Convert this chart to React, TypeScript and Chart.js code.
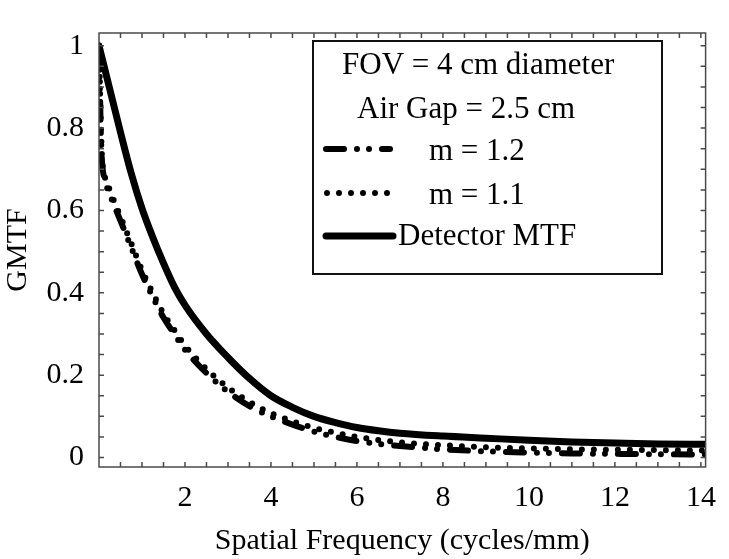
import React, { useEffect, useRef } from "react";
import { Chart, registerables } from "chart.js";

Chart.register(...registerables);

// ---- Data ----
const detectorFreq = [0, 0.25, 0.5, 0.75, 1.0, 1.25, 1.5, 1.75, 2, 2.5, 3, 3.5, 4, 4.5, 5, 5.5, 6, 6.5, 7, 8, 9, 10, 11, 12, 13, 14.2];
const detectorMtf = [1, 0.895, 0.79, 0.69, 0.605, 0.535, 0.472, 0.415, 0.37, 0.3, 0.243, 0.192, 0.15, 0.122, 0.1, 0.085, 0.073, 0.065, 0.059, 0.052, 0.047, 0.042, 0.038, 0.035, 0.033, 0.032];

const gmtfFreq = [0, 0.02, 0.04, 0.07, 0.12, 0.25, 0.5, 0.75, 1, 1.25, 1.5, 1.75, 2, 2.5, 3, 3.5, 4, 4.5, 5, 5.5, 6, 7, 8, 9, 10, 11, 12, 13, 14.2];
const gmtfM12 = [1, 0.9, 0.8, 0.72, 0.68, 0.64, 0.575, 0.51, 0.445, 0.39, 0.34, 0.3, 0.262, 0.205, 0.16, 0.125, 0.1, 0.08, 0.063, 0.05, 0.04, 0.028, 0.02, 0.015, 0.012, 0.01, 0.009, 0.008, 0.007];
const gmtfM11 = [1, 0.91, 0.82, 0.73, 0.69, 0.65, 0.585, 0.52, 0.455, 0.4, 0.35, 0.31, 0.272, 0.215, 0.17, 0.135, 0.108, 0.088, 0.072, 0.06, 0.05, 0.037, 0.03, 0.025, 0.022, 0.02, 0.019, 0.018, 0.017];

const xTickValues = [2, 4, 6, 8, 10, 12, 14];
const yTickValues = [0, 0.2, 0.4, 0.6, 0.8, 1];
const xMinorStep = 0.5;
const yMinorStep = 0.05;
const xRange = [0, 14.11];
const yRange = [-0.023, 1.031];

const xTitle = "Spatial Frequency (cycles/mm)";
const yTitle = "GMTF";
const legendHeader = ["FOV = 4 cm diameter", "Air Gap = 2.5 cm"];
const seriesLabels = ["m = 1.2", "m = 1.1", "Detector MTF"];

const FONT = '"Liberation Serif", "Times New Roman", Times, serif';

const dashM12 = [18, 13, 0, 12, 0, 13];
const dashM11 = [0, 12];

const framePlugin = {
  id: "frameTicks",
  afterDatasetsDraw(chart: any) {
    const { ctx, chartArea: a, scales } = chart;
    const xs = scales.x;
    const ys = scales.y;
    ctx.save();
    ctx.strokeStyle = "#4a4a4a";
    ctx.lineWidth = 1.5;
    ctx.setLineDash([]);
    ctx.beginPath();
    const nx = Math.floor(14 / xMinorStep);
    for (let i = 1; i <= nx; i++) {
      const px = xs.getPixelForValue(i * xMinorStep);
      ctx.moveTo(px, a.bottom);
      ctx.lineTo(px, a.bottom - 5);
      ctx.moveTo(px, a.top);
      ctx.lineTo(px, a.top + 5);
    }
    const ny = Math.round(1 / yMinorStep);
    for (let i = 0; i <= ny; i++) {
      const py = ys.getPixelForValue(i * yMinorStep);
      ctx.moveTo(a.left, py);
      ctx.lineTo(a.left + 5, py);
      ctx.moveTo(a.right, py);
      ctx.lineTo(a.right - 5, py);
    }
    ctx.stroke();
    ctx.strokeRect(a.left, a.top, a.right - a.left, a.bottom - a.top);
    ctx.restore();
  },
};

const legendPlugin = {
  id: "customLegend",
  afterDraw(chart: any) {
    const { ctx } = chart;
    ctx.save();
    const bx = 313, by = 41, bw = 349, bh = 233;
    ctx.fillStyle = "#fff";
    ctx.fillRect(bx, by, bw, bh);
    ctx.strokeStyle = "#111";
    ctx.lineWidth = 2;
    ctx.strokeRect(bx, by, bw, bh);

    ctx.fillStyle = "#000";
    ctx.font = `31px ${FONT}`;
    ctx.textBaseline = "middle";
    ctx.textAlign = "left";
    ctx.fillText(legendHeader[0], 342, 66);
    ctx.fillText(legendHeader[1], 357, 110);
    ctx.fillText(seriesLabels[0], 429, 152);
    ctx.fillText(seriesLabels[1], 429, 196);
    ctx.fillText(seriesLabels[2], 398, 237);

    ctx.strokeStyle = "#000";
    ctx.lineCap = "round";
    const drawSample = (y: number, dash: number[], w: number, x0: number, x1: number) => {
      ctx.beginPath();
      ctx.setLineDash(dash);
      ctx.lineWidth = w;
      ctx.moveTo(x0, y);
      ctx.lineTo(x1, y);
      ctx.stroke();
    };
    drawSample(149, dashM12, 6, 326, 390);
    drawSample(193, dashM11, 6, 327, 390);
    drawSample(236, [], 7, 326, 393);
    ctx.restore();
  },
};

export default function App() {
  const canvasRef = useRef<HTMLCanvasElement | null>(null);

  useEffect(() => {
    const canvas = canvasRef.current;
    if (!canvas) return;
    const toPts = (xs: number[], ys: number[]) => xs.map((x, i) => ({ x, y: ys[i] }));
    const chart = new Chart(canvas, {
      type: "line",
      data: {
        datasets: [
          {
            label: seriesLabels[2],
            data: toPts(detectorFreq, detectorMtf),
            borderColor: "#000",
            borderWidth: 7,
            pointRadius: 0,
            fill: false,
            cubicInterpolationMode: "monotone",
            borderCapStyle: "round",
          },
          {
            label: seriesLabels[1],
            data: toPts(gmtfFreq, gmtfM11),
            borderColor: "#000",
            borderWidth: 6,
            borderDash: dashM11,
            borderCapStyle: "round",
            pointRadius: 0,
            fill: false,
            cubicInterpolationMode: "monotone",
          },
          {
            label: seriesLabels[0],
            data: toPts(gmtfFreq, gmtfM12),
            borderColor: "#000",
            borderWidth: 6,
            borderDash: dashM12,
            borderCapStyle: "round",
            pointRadius: 0,
            fill: false,
            cubicInterpolationMode: "monotone",
          },
        ],
      },
      options: {
        animation: false,
        responsive: false,
        devicePixelRatio: 1,
        layout: { padding: { top: 6, right: 16, left: 0, bottom: 0 } },
        plugins: {
          legend: { display: false },
          tooltip: { enabled: false },
        },
        scales: {
          x: {
            type: "linear",
            min: xRange[0],
            max: xRange[1],
            grid: { display: false, drawTicks: false },
            border: { display: false },
            afterBuildTicks: (s: any) => {
              s.ticks = xTickValues.map((v) => ({ value: v }));
            },
            afterFit: (s: any) => {
              s.height = 92;
            },
            ticks: {
              color: "#000",
              font: { family: FONT, size: 30 },
              padding: 13,
              maxRotation: 0,
              autoSkip: false,
              callback: (v: any) => String(v),
            },
            title: {
              display: true,
              text: xTitle,
              color: "#000",
              font: { family: FONT, size: 30 },
              padding: { top: 0, bottom: 0 },
            },
          },
          y: {
            type: "linear",
            min: yRange[0],
            max: yRange[1],
            grid: { display: false, drawTicks: false },
            border: { display: false },
            afterBuildTicks: (s: any) => {
              s.ticks = yTickValues.map((v) => ({ value: v }));
            },
            afterFit: (s: any) => {
              s.width = 99;
            },
            ticks: {
              color: "#000",
              font: { family: FONT, size: 30 },
              padding: 15,
              autoSkip: false,
              callback: (v: any) => String(v),
            },
            title: {
              display: true,
              text: yTitle,
              color: "#000",
              font: { family: FONT, size: 30 },
              padding: { top: 0, bottom: 2 },
            },
          },
        },
      },
      plugins: [framePlugin, legendPlugin],
    } as any);
    return () => chart.destroy();
  }, []);

  return (
    <div style={{ position: "fixed", left: 0, top: 0, width: 729, height: 559, background: "#fff" }}>
      <canvas ref={canvasRef} width={729} height={559} style={{ display: "block" }} />
    </div>
  );
}
